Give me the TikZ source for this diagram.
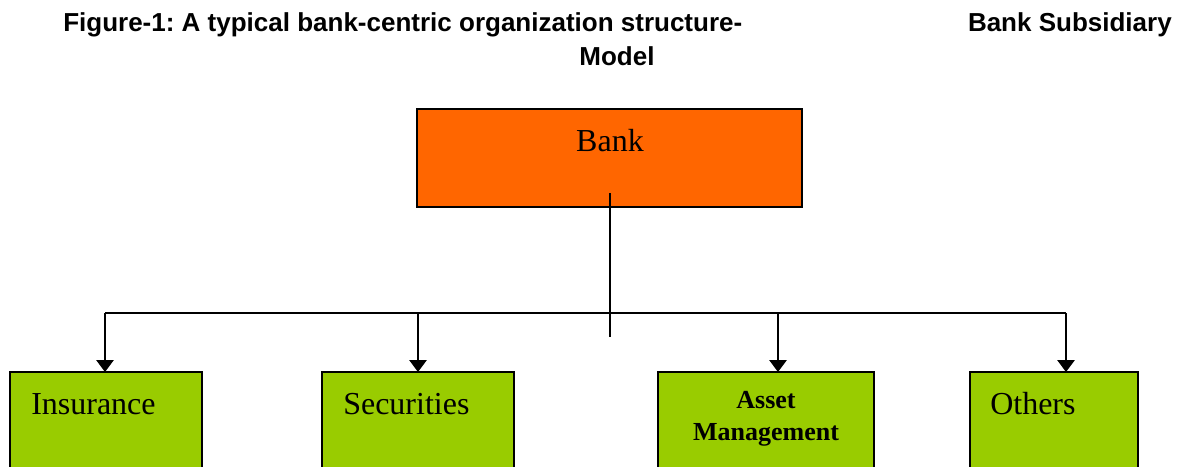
\documentclass[tikz,border=0pt]{standalone}
\usepackage{fontspec}
\setmainfont{Liberation Serif}
\newfontfamily\arialfont{Liberation Sans}
\usetikzlibrary{arrows.meta}
\definecolor{bankorange}{HTML}{FF6600}
\definecolor{subgreen}{HTML}{99CC00}
\frenchspacing
\tikzset{
  titletext/.style={inner sep=0pt, font=\arialfont\bfseries\fontsize{19.5pt}{22pt}\selectfont},
  boxtext/.style={inner sep=0pt, font=\fontsize{24pt}{28pt}\selectfont},
  bankbox/.style={draw=black, line width=1.5pt, fill=bankorange},
  subbox/.style={draw=black, line width=1.5pt, fill=subgreen},
  link/.style={draw=black, line width=1.5pt},
  arrowlink/.style={link, -{Triangle[width=13pt,length=9pt]}}
}
\begin{document}
\begin{tikzpicture}[x=0.75pt,y=-0.75pt]
\useasboundingbox (0,0) rectangle (1181,467);
\clip (0,0) rectangle (1181,467);
% titles
\node[titletext, anchor=base west] (title) at (63,32) {Figure-1: A typical bank-centric organization structure-};
\node[titletext, anchor=base] (model) at (617,65) {Model};
\node[titletext, anchor=base east] (subs) at (1172,32) {Bank Subsidiary};
% bank box
\draw[bankbox] (417,109) rectangle (802,207);
\node[boxtext, anchor=base] (banklabel) at (610,151) {Bank};
% subsidiary boxes
\draw[subbox] (10,372) rectangle (202,480);
\draw[subbox] (322,372) rectangle (514,480);
\draw[subbox] (658,372) rectangle (874,480);
\draw[subbox] (970,372) rectangle (1138,480);
\node[boxtext, anchor=base west] (ins) at (31,414) {Insurance};
\node[boxtext, anchor=base west] (sec) at (343,414) {Securities};
\node[inner sep=0pt, align=center, font=\bfseries\fontsize{19.5pt}{24pt}\selectfont, anchor=base] (asset) at (766,440) {Asset\\Management};
\node[boxtext, anchor=base west] (oth) at (990,414) {Others};
% connectors
\coordinate (stemtop) at (610,193);
\coordinate (stembot) at (610,337);
\coordinate (busL) at (105,313);
\coordinate (busR) at (1066,313);
\coordinate (insTop) at (105,372);
\coordinate (secTop) at (418,372);
\coordinate (assTop) at (778,372);
\coordinate (othTop) at (1066,372);
\draw[link] (stemtop) -- (stembot);
\draw[link] (busL) -- (busR);
\draw[arrowlink] (busL) -- (insTop);
\draw[arrowlink] (secTop |- busL) -- (secTop);
\draw[arrowlink] (assTop |- busL) -- (assTop);
\draw[arrowlink] (busR) -- (othTop);
\end{tikzpicture}
\end{document}
